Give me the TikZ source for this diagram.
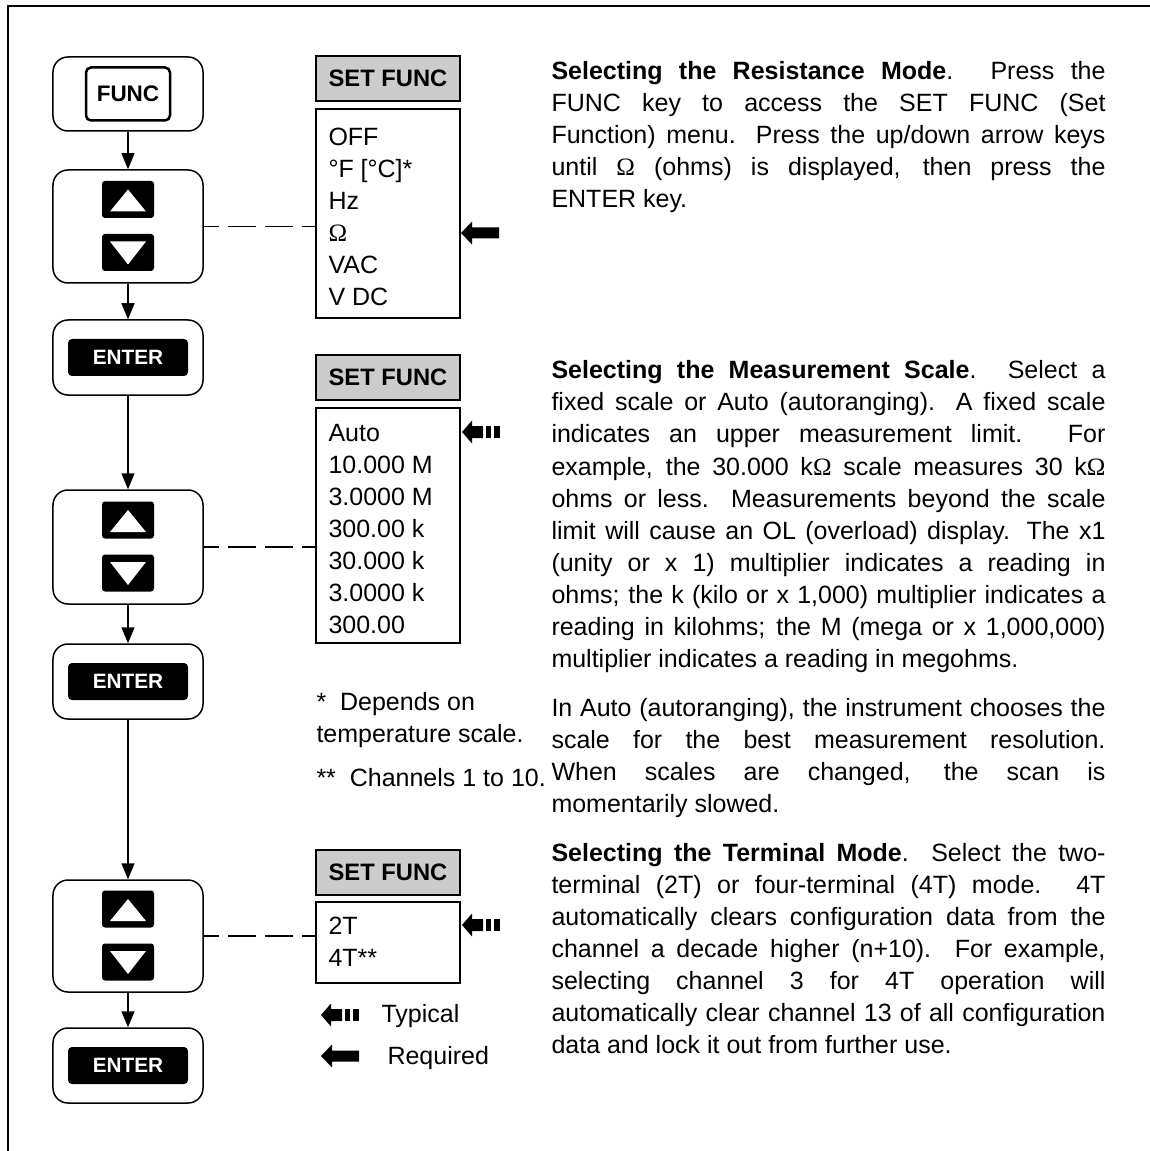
\documentclass[tikz,border=0pt]{standalone}
\usepackage{fontspec}
\setmainfont{Liberation Sans}
\newfontfamily\ohmfont{Liberation Serif}
\usetikzlibrary{arrows.meta,calc}
\newcommand{\ohmsym}{{\ohmfont Ω}}
\hyphenpenalty=10000
\exhyphenpenalty=10000

\tikzset{
  keypad/.style={draw, line width=0.6pt, rounded corners=6pt, minimum width=60pt, inner sep=0pt},
  funckey/.style={draw, line width=1pt, rounded corners=2pt, minimum width=33.6pt, minimum height=21.2pt, inner sep=0pt, font=\fontsize{9}{11}\selectfont\bfseries},
  enterkey/.style={fill=black, rounded corners=1.6pt, minimum width=48pt, minimum height=14.8pt, inner sep=0pt, text=white, font=\fontsize{8.3}{10}\selectfont\bfseries},
  blackkey/.style={fill=black, rounded corners=1.2pt, minimum width=20.8pt, minimum height=14.8pt, inner sep=0pt},
  flow/.style={line width=0.6pt, -{Triangle[width=5.2pt,length=6.4pt]}},
  link/.style={line width=0.6pt, dash pattern=on 11.2pt off 3.6pt, dash phase=5.2pt},
  menuhead/.style={draw, line width=0.6pt, fill=black!20, minimum width=57.6pt, minimum height=18pt, inner sep=0pt, font=\fontsize{9.5}{11}\selectfont\bfseries},
  menulist/.style={draw, line width=0.6pt, minimum width=57.6pt, inner sep=0pt},
  item/.style={anchor=base west, inner sep=0pt, font=\fontsize{10}{12.8}\selectfont},
  para/.style={anchor=base west, inner sep=0pt, text width=221.6pt, align=justify, font=\fontsize{10}{12.8}\selectfont},
  reqarrow/.pic={\fill (0,0) -- (11,-11.5) -- (11,-5.5) -- (38,-5.5) -- (38,5.5) -- (11,5.5) -- (11,11.5) -- cycle;},
  typarrow/.pic={\fill (0,0) -- (10,-11.5) -- (10,-6) -- (21,-6) -- (21,6) -- (10,6) -- (10,11.5) -- cycle;
    \fill (24,-6) rectangle (29,6);
    \fill (32,-6) rectangle (38,6);},
}

\begin{document}
\begin{tikzpicture}[x=0.4pt,y=-0.4pt]
\useasboundingbox (0,0) rectangle (1150,1151);
\draw[line width=0.8pt] (8,1151) -- (8,6) -- (1150,6);

% keys
\node[keypad, minimum height=29.6pt] (func) at (128,94) {};
\node[funckey] (funclbl) at (func) {FUNC};
\node[keypad, minimum height=45.2pt] (sel1) at (128,226.5) {};
\node[keypad, minimum height=30pt] (enter1) at (128,357.5) {};
\node[enterkey] (enterlbl1) at (enter1) {ENTER};
\node[keypad, minimum height=45.6pt] (sel2) at (128,547) {};
\node[keypad, minimum height=30pt] (enter2) at (128,681.5) {};
\node[enterkey] (enterlbl2) at (enter2) {ENTER};
\node[keypad, minimum height=44.8pt] (sel3) at (128,936) {};
\node[keypad, minimum height=30pt] (enter3) at (128,1065.5) {};
\node[enterkey] (enterlbl3) at (enter3) {ENTER};

\foreach \s in {sel1,sel2,sel3}{
  \node[blackkey] (\s-up) at ($(\s)+(0,-27)$) {};
  \node[blackkey] (\s-dn) at ($(\s)+(0,26)$) {};
  \fill[white] ($(\s-up)+(0,-10)$) -- ($(\s-up)+(18,12)$) -- ($(\s-up)+(-18,12)$) -- cycle;
  \fill[white] ($(\s-dn)+(0,12)$) -- ($(\s-dn)+(18,-11)$) -- ($(\s-dn)+(-18,-11)$) -- cycle;
}

\draw[flow] (func) -- (sel1);
\draw[flow] (sel1) -- (enter1);
\draw[flow] (enter1) -- (sel2);
\draw[flow] (sel2) -- (enter2);
\draw[flow] (enter2) -- (sel3);
\draw[flow] (sel3) -- (enter3);

% menus
\node[menuhead] (head1) at (388,78.5) {SET FUNC};
\node[menulist, minimum height=83.6pt] (list1) at (388,213.5) {};
\foreach \t [count=\i from 0] in {OFF, °F [°C]*, Hz, \ohmsym, VAC, V DC}
  \node[item] (fn\i) at (328,{146+32*\i}) {\t};
\pic at (461,233) {reqarrow};

\node[menuhead] (head2) at (388,377.5) {SET FUNC};
\node[menulist, minimum height=94pt] (list2) at (388,525.5) {};
\foreach \t [count=\i from 0] in {Auto, 10.000 M, 3.0000 M, 300.00 k, 30.000 k, 3.0000 k, 300.00}
  \node[item] (sc\i) at (328,{441+32*\i}) {\t};
\pic at (462,432) {typarrow};

\node[menuhead] (head3) at (388,872.5) {SET FUNC};
\node[menulist, minimum height=32.4pt] (list3) at (388,942.5) {};
\node[item] (tm0) at (328,934) {2T};
\node[item] (tm1) at (328,966) {4T**};
\pic at (462,925) {typarrow};

\draw[link] (sel1.east) -- (sel1.east -| list1.west);
\draw[link] (sel2.east) -- (sel2.east -| list2.west);
\draw[link] (sel3.east) -- (sel3.east -| list3.west);

% notes and legend
\node[item] (note1) at (316,710) {*\ \ Depends on};
\node[item] (note2) at (316,742) {temperature scale.};
\node[item] (note3) at (316,786) {**\ \ Channels 1 to 10.};
\pic at (321,1015) {typarrow};
\node[item] (typ) at (381,1022) {Typical};
\pic at (321,1056) {reqarrow};
\node[item] (req) at (387,1064) {Required};

% text
\node[para] (resmode) at (551,80) {\textbf{Selecting the Resistance Mode}.  Press the\linebreak
FUNC key to access the SET FUNC (Set\linebreak
Function) menu.  Press the up/down arrow keys\linebreak
until \ohmsym{} (ohms) is displayed, then press the\linebreak
ENTER key.};
\node[para] (scale) at (551,379) {\textbf{Selecting the Measurement Scale}.  Select a\linebreak
fixed scale or Auto (autoranging).  A fixed scale\linebreak
indicates an upper measurement limit.  For\linebreak
example, the 30.000 k\ohmsym{} scale measures 30 k\ohmsym\linebreak
ohms or less.  Measurements beyond the scale\linebreak
limit will cause an OL (overload) display.  The x1\linebreak
(unity or x 1) multiplier indicates a reading in\linebreak
ohms; the k (kilo or x 1,000) multiplier indicates a\linebreak
reading in kilohms; the M (mega or x 1,000,000)\linebreak
multiplier indicates a reading in megohms.};
\node[para] (auto) at (551,716) {In Auto (autoranging), the instrument chooses the\linebreak
scale for the best measurement resolution.\linebreak
When scales are changed, the scan is\linebreak
momentarily slowed.};
\node[para] (term) at (551,861) {\textbf{Selecting the Terminal Mode}.  Select the two-\linebreak
terminal (2T) or four-terminal (4T) mode.  4T\linebreak
automatically clears configuration data from the\linebreak
channel a decade higher (n+10).  For example,\linebreak
selecting channel 3 for 4T operation will\linebreak
automatically clear channel 13 of all configuration\linebreak
data and lock it out from further use.};
\end{tikzpicture}
\end{document}
